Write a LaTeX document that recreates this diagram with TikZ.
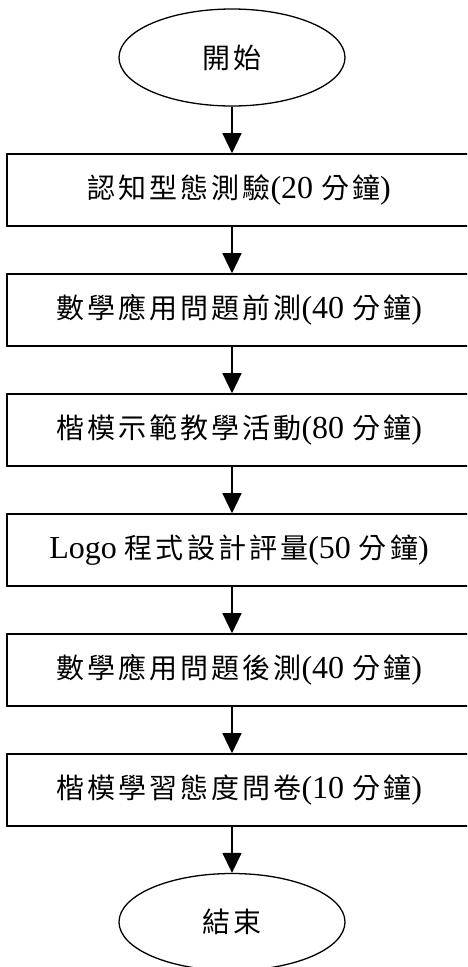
\documentclass[tikz,border=0pt]{standalone}
\usepackage{fontspec}
\setmainfont{Liberation Serif}
\newfontfamily\cjkfont[LetterSpace=11]{Noto Sans CJK TC}
\newcommand{\zh}[1]{{\fontsize{28}{32}\cjkfont #1}}
\usetikzlibrary{shapes.geometric,arrows.meta}
\tikzset{
  term/.style={ellipse,draw,line width=1.3pt,minimum width=226pt,minimum height=97pt,inner sep=0pt,font=\fontsize{28}{32}\selectfont},
  stepbox/.style={rectangle,draw,line width=1.6pt,minimum width=464pt,minimum height=72pt,inner sep=0pt,font=\fontsize{32}{36}\selectfont},
  flow/.style={line width=1.3pt,-{Triangle[width=19pt,length=20pt]}}
}
\begin{document}
\begin{tikzpicture}[x=1pt,y=-1pt]
\path[use as bounding box,clip] (0,0) rectangle (467,967);
\node[term] (s) at (232,57.5) {\zh{開始}};
\node[stepbox] (b1) at (239,190) {\zh{認知型態測驗}(20 \zh{分鐘})};
\node[stepbox] (b2) at (239,310) {\zh{數學應用問題前測}(40 \zh{分鐘})};
\node[stepbox] (b3) at (239,430) {\zh{楷模示範教學活動}(80 \zh{分鐘})};
\node[stepbox] (b4) at (239,550) {Logo \zh{程式設計評量}(50 \zh{分鐘})};
\node[stepbox] (b5) at (239,670) {\zh{數學應用問題後測}(40 \zh{分鐘})};
\node[stepbox] (b6) at (239,790) {\zh{楷模學習態度問卷}(10 \zh{分鐘})};
\node[term] (e) at (232,922) {\zh{結束}};
\draw[flow] (s.south) -- (b1.north -| s.south);
\draw[flow] (b1.south -| s.south) -- (b2.north -| s.south);
\draw[flow] (b2.south -| s.south) -- (b3.north -| s.south);
\draw[flow] (b3.south -| s.south) -- (b4.north -| s.south);
\draw[flow] (b4.south -| s.south) -- (b5.north -| s.south);
\draw[flow] (b5.south -| s.south) -- (b6.north -| s.south);
\draw[flow] (b6.south -| s.south) -- (e.north);
\end{tikzpicture}
\end{document}
